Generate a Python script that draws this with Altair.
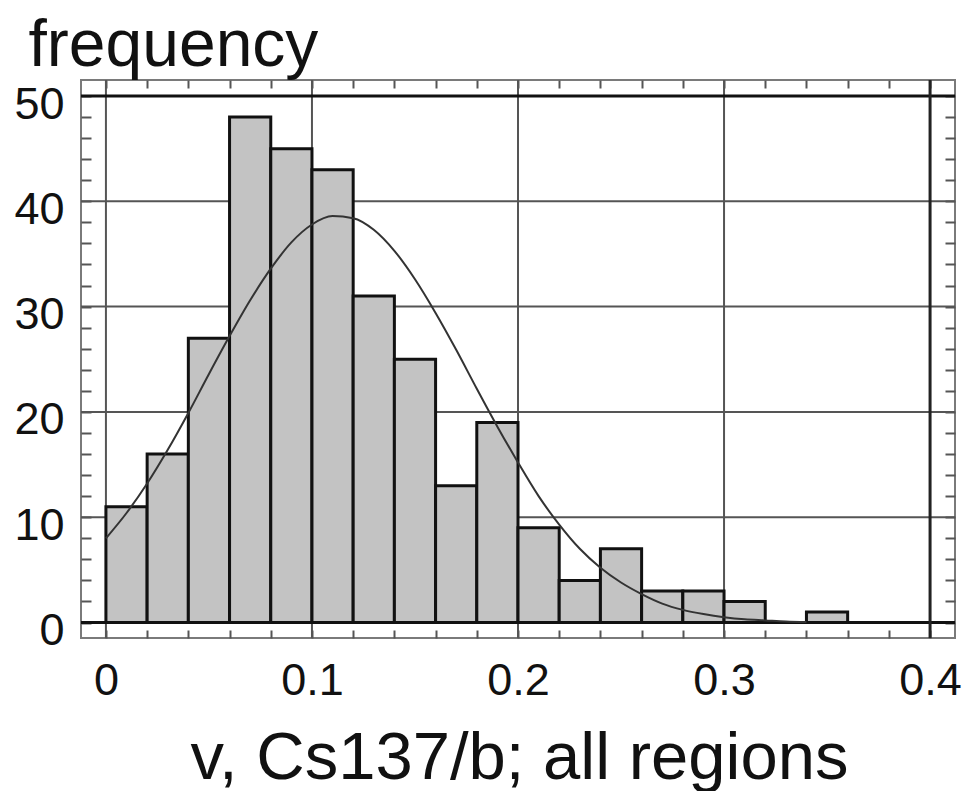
import altair as alt
import pandas as pd

# ---- data ----
bin_lo = [0.00, 0.02, 0.04, 0.06, 0.08, 0.10, 0.12, 0.14, 0.16,
          0.18, 0.20, 0.22, 0.24, 0.26, 0.28, 0.30, 0.32, 0.34]
bin_hi = [0.02, 0.04, 0.06, 0.08, 0.10, 0.12, 0.14, 0.16, 0.18,
          0.20, 0.22, 0.24, 0.26, 0.28, 0.30, 0.32, 0.34, 0.36]
counts = [11, 16, 27, 48, 45, 43, 31, 25, 13, 19, 9, 4, 7, 3, 3, 2, 0, 1]

curve_x = [0.00, 0.01, 0.02, 0.03, 0.04, 0.05, 0.06, 0.07, 0.08, 0.09,
           0.10, 0.11, 0.12, 0.13, 0.14, 0.15, 0.16, 0.17, 0.18, 0.19,
           0.20, 0.21, 0.22, 0.23, 0.24, 0.25, 0.26, 0.27, 0.28, 0.29,
           0.30, 0.31, 0.32, 0.33, 0.34]
curve_y = [8.0, 10.4, 13.2, 16.4, 19.9, 23.6, 27.2, 30.6, 33.6, 36.1,
           37.8, 38.6, 38.4, 37.3, 35.3, 32.6, 29.4, 25.9, 22.2, 18.6,
           15.2, 12.0, 9.3, 7.0, 5.2, 3.8, 2.7, 1.8, 1.2, 0.8,
           0.5, 0.3, 0.2, 0.1, 0.05]

x_grid = [0.0, 0.1, 0.2, 0.3]
x_edge = [0.4]
y_grid = [10, 20, 30, 40]
y_edge = [0, 50]

x_ticks = [0.00, 0.02, 0.04, 0.06, 0.08, 0.10, 0.12, 0.14, 0.16, 0.18, 0.20,
           0.22, 0.24, 0.26, 0.28, 0.30, 0.32, 0.34, 0.36, 0.38, 0.40]
y_ticks = [0, 2, 4, 6, 8, 10, 12, 14, 16, 18, 20, 22, 24, 26, 28, 30,
           32, 34, 36, 38, 40, 42, 44, 46, 48, 50]

x_title = "v, Cs137/b; all regions"
y_title = "frequency"

FONT = "Liberation Sans"

xs = alt.Scale(domain=[-0.0121, 0.4121], nice=False, zero=False)
ys = alt.Scale(domain=[-1.47, 51.52], nice=False, zero=False)

bins_df = pd.DataFrame({"lo": bin_lo, "hi": bin_hi, "count": counts})
curve_df = pd.DataFrame({"x": curve_x, "y": curve_y})

bottom_axis = alt.Axis(
    orient="bottom", values=x_ticks, offset=-8, tickSize=8, domain=False,
    grid=False, labelFontSize=45, labelPadding=20, labelFlush=False,
    labelOverlap=False,
    labelExpr="abs(datum.value*10 - round(datum.value*10)) < 0.001 ? format(datum.value, '.1~f') : ''",
    title=x_title, titleFontSize=67, titleX=438, titleY=148,
    titleAlign="center", titleBaseline="alphabetic", titleAnchor="middle",
)
left_axis = alt.Axis(
    orient="left", values=y_ticks, offset=-10, tickSize=10, domain=False,
    grid=False, labelFontSize=45, labelPadding=17, labelOffset=8,
    labelOverlap=False, labelFlush=False,
    labelExpr="datum.value % 10 == 0 ? datum.label : ''",
    title=y_title, titleFontSize=66, titleAngle=0, titleAlign="left",
    titleBaseline="alphabetic", titleX=-63, titleY=-15,
)
top_axis = alt.Axis(orient="top", values=x_ticks, offset=-8, tickSize=8,
                    domain=False, grid=False, labels=False, title=None)
right_axis = alt.Axis(orient="right", values=y_ticks, offset=-10, tickSize=10,
                      domain=False, grid=False, labels=False, title=None)

hgrid = alt.Chart(pd.DataFrame({"y": y_grid})).mark_rule(
    color="#555555", strokeWidth=2).encode(y=alt.Y("y:Q", scale=ys, axis=None))
vgrid = alt.Chart(pd.DataFrame({"x": x_grid})).mark_rule(
    color="#555555", strokeWidth=2).encode(x=alt.X("x:Q", scale=xs, axis=None))

bars = alt.Chart(bins_df).mark_rect(
    fill="#c3c3c3", stroke="#111111", strokeWidth=3).encode(
    x=alt.X("lo:Q", scale=xs, axis=bottom_axis),
    x2="hi:Q",
    y=alt.Y("count:Q", scale=ys, axis=left_axis),
    y2=alt.datum(0),
)

hedge = alt.Chart(pd.DataFrame({"y": y_edge})).mark_rule(
    color="#111111", strokeWidth=3).encode(y=alt.Y("y:Q", scale=ys, axis=None))
vedge = alt.Chart(pd.DataFrame({"x": x_edge})).mark_rule(
    color="#222222", strokeWidth=3).encode(x=alt.X("x:Q", scale=xs, axis=None))

curve = alt.Chart(curve_df).mark_line(
    color="#333333", strokeWidth=2, interpolate="monotone").encode(
    x=alt.X("x:Q", scale=xs, axis=top_axis),
    y=alt.Y("y:Q", scale=ys, axis=right_axis),
)

chart = alt.layer(hgrid, vgrid, bars, hedge, vedge, curve).resolve_axis(
    x="independent", y="independent"
).properties(
    width=874, height=558,
    autosize=alt.AutoSizeParams(type="none"),
    padding={"left": 81, "top": 80, "right": 13, "bottom": 153},
    background="white",
).configure_view(
    stroke="#7a7a7a", strokeWidth=2
).configure_axis(
    labelFont=FONT, titleFont=FONT, labelColor="#111111", titleColor="#111111",
    titleFontWeight="normal", tickColor="#555555", tickWidth=2,
)

chart.save("out.html", embed_options={"renderer": "svg", "actions": False})
